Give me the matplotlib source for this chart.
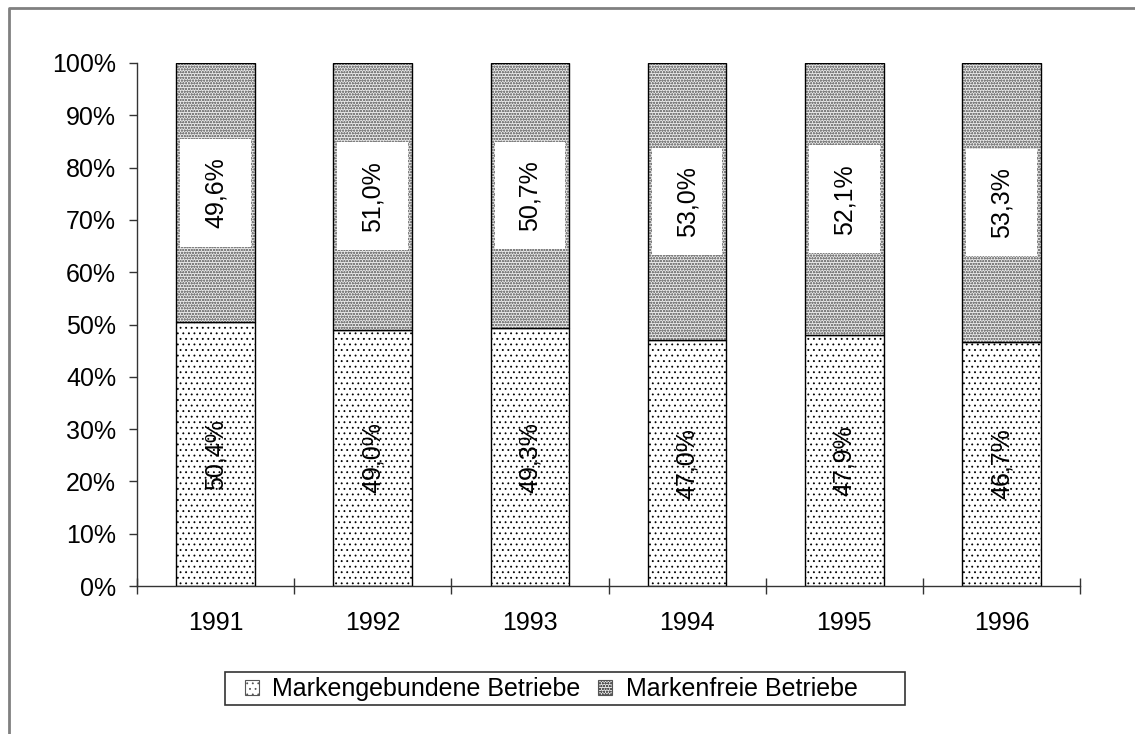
import matplotlib
matplotlib.use("Agg")
import matplotlib.pyplot as plt
from matplotlib.patches import Rectangle, Patch
from matplotlib.lines import Line2D
import numpy as np

plt.rcParams['font.family'] = ['Liberation Sans', 'DejaVu Sans']
plt.rcParams['hatch.linewidth'] = 0.6

years = ['1991', '1992', '1993', '1994', '1995', '1996']
markengebunden = [50.4, 49.0, 49.3, 47.0, 47.9, 46.7]
markenfrei = [49.6, 51.0, 50.7, 53.0, 52.1, 53.3]
series_names = ['Markengebundene Betriebe', 'Markenfreie Betriebe']
yticks = [0, 10, 20, 30, 40, 50, 60, 70, 80, 90, 100]

W, H = 1135, 734
fig = plt.figure(figsize=(W / 100, H / 100), dpi=100)
ax = fig.add_axes([137 / W, 1 - 586 / H, (1080 - 137) / W, (586 - 63) / H])

x = np.arange(len(years))
fs = 18
bw = 0.5
top_face = '#e8e8e8'
top_hatch = (0.5, 0.5, 0.5, 1)

plt.rcParams['hatch.color'] = '#a0a0a0'
b1 = ax.bar(x, markengebunden, bw, color='white', edgecolor='black', linewidth=1.0,
            hatch='...', zorder=2)
b2 = ax.bar(x, markenfrei, bw, bottom=markengebunden, color=top_face, edgecolor='black',
            linewidth=1.0, hatch='oooooo', zorder=2)
for p in b2:
    p._hatch_color = top_hatch

def fmt(v):
    return f"{v:.1f}%".replace('.', ',')

for i in range(len(years)):
    yb = markengebunden[i] / 2
    ax.text(x[i], yb, fmt(markengebunden[i]), rotation=90, ha='center', va='center',
            fontsize=fs, zorder=4)
    yt = markengebunden[i] + markenfrei[i] / 2
    ax.add_patch(Rectangle((x[i] - 0.225, yt - 10.3), 0.45, 20.6, facecolor='white',
                           edgecolor='none', zorder=3))
    ax.text(x[i], yt, fmt(markenfrei[i]), rotation=90, ha='center', va='center',
            fontsize=fs, zorder=4)

ax.set_xlim(-0.5, len(years) - 0.5)
ax.set_ylim(0, 100)
ax.set_yticks(yticks)
ax.set_yticklabels([f"{t}%" for t in yticks], fontsize=fs)
ax.set_xticks(x)
ax.set_xticklabels(years, fontsize=fs)
ax.tick_params(axis='x', length=0, pad=18)
ax.set_xticks(np.arange(-0.5, len(years), 1.0), minor=True)
ax.tick_params(axis='x', which='minor', direction='inout', length=12, width=1, color='#333333')
ax.tick_params(axis='y', direction='out', length=6, width=1, color='#333333', pad=9)
for s in ['top', 'right']:
    ax.spines[s].set_visible(False)
for s in ['left', 'bottom']:
    ax.spines[s].set_color('#333333')
    ax.spines[s].set_linewidth(1)

h1 = Patch(facecolor='white', edgecolor='#555555', hatch='...', linewidth=0.8)
h2 = Patch(facecolor=top_face, edgecolor='#555555', hatch='oooooo', linewidth=0.8)
leg = fig.legend([h1, h2], series_names, loc='center left',
                 bbox_to_anchor=(245 / W, 1 - 689 / H), borderaxespad=0,
                 ncol=2, fontsize=fs, frameon=False,
                 handlelength=0.55, handleheight=0.55,
                 handletextpad=0.55, columnspacing=0.7, borderpad=0.0)
fig.add_artist(Rectangle((225 / W, 1 - 705 / H), 680 / W, 33 / H, transform=fig.transFigure,
                         facecolor='none', edgecolor='#333333', linewidth=1.2))

fig.add_artist(Line2D([8.5 / W, 8.5 / W, 1.0], [0, 1 - 7.5 / H, 1 - 7.5 / H],
                      transform=fig.transFigure, color='#808080', linewidth=2))

fig.savefig('out.png', dpi=100)
